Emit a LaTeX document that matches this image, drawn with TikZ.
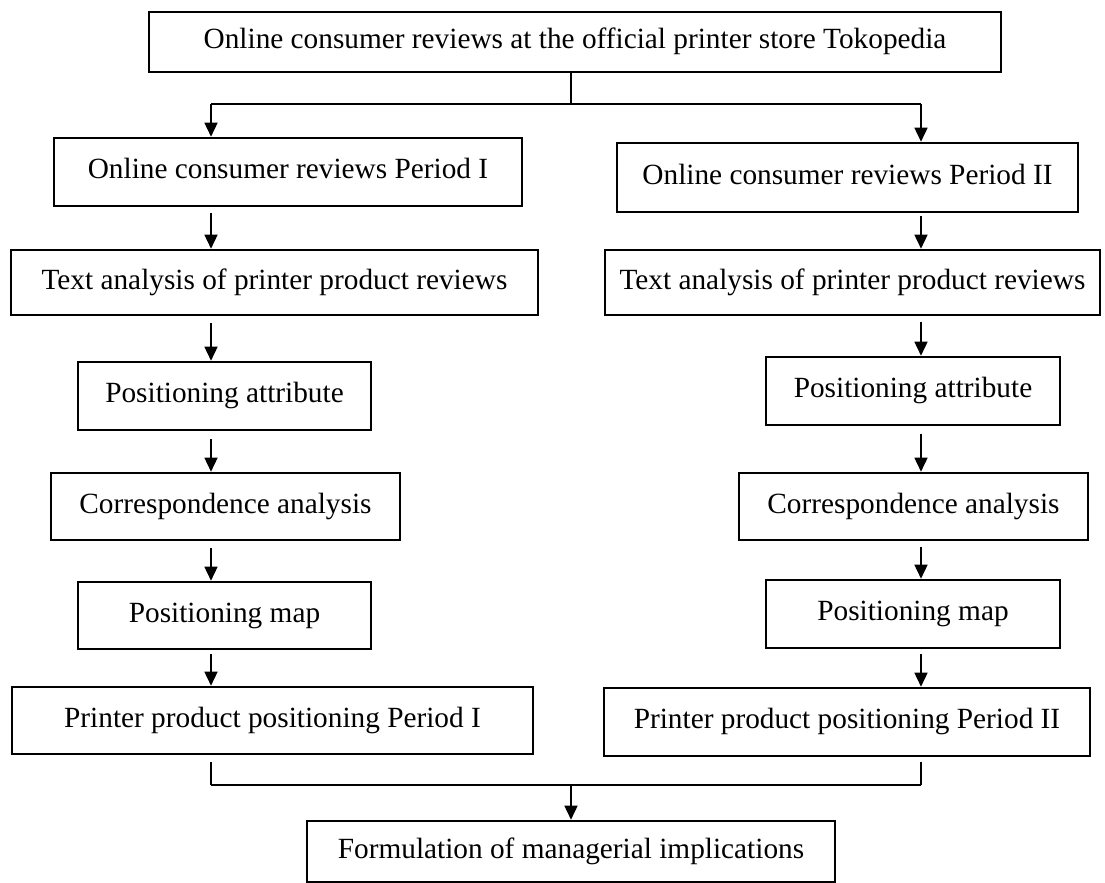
\documentclass[tikz,border=0pt]{standalone}
\usepackage{fontspec}
\setmainfont{Liberation Serif}
\usetikzlibrary{arrows.meta}
\begin{document}
\begin{tikzpicture}[x=0.5pt,y=-0.5pt,
  box/.style={draw, line width=1.3pt, inner sep=0pt, text height=0.66em, text depth=0pt,
    font=\fontsize{14.65pt}{17pt}\selectfont, anchor=center},
  arr/.style={line width=0.8pt, -{Triangle[length=7pt,width=6.5pt]}},
  conn/.style={line width=0.6pt}]
\useasboundingbox (0,0) rectangle (1105,883);
% boxes
\node[box, minimum width=426pt, minimum height=30pt] (top) at (575,42) {Online consumer reviews at the official printer store Tokopedia};
\node[box, minimum width=234pt, minimum height=34pt] (p1) at (288,172) {Online consumer reviews Period I};
\node[box, minimum width=230.5pt, minimum height=34.5pt] (p2) at (847.5,177.5) {Online consumer reviews Period II};
\node[box, minimum width=263.5pt, minimum height=32.5pt] (ta1) at (274.5,282.5) {Text analysis of printer product reviews};
\node[box, minimum width=247.5pt, minimum height=32.5pt] (ta2) at (852.5,282.5) {Text analysis of printer product reviews};
\node[box, minimum width=146.5pt, minimum height=34pt] (pa1) at (224.5,396) {Positioning attribute};
\node[box, minimum width=147pt, minimum height=34pt] (pa2) at (913,391) {Positioning attribute};
\node[box, minimum width=174.5pt, minimum height=33.5pt] (ca1) at (225.5,506.5) {Correspondence analysis};
\node[box, minimum width=174.5pt, minimum height=33.5pt] (ca2) at (913.5,506.5) {Correspondence analysis};
\node[box, minimum width=146.5pt, minimum height=33.5pt] (pm1) at (224.5,615.5) {Positioning map};
\node[box, minimum width=147pt, minimum height=34pt] (pm2) at (913,614) {Positioning map};
\node[box, minimum width=260.5pt, minimum height=33.5pt] (pp1) at (272.5,720.5) {Printer product positioning Period I};
\node[box, minimum width=243pt, minimum height=34pt] (pp2) at (847,722) {Printer product positioning Period II};
\node[box, minimum width=264pt, minimum height=30.5pt] (fm) at (571,851.5) {Formulation of managerial implications};
% reference coordinates
\coordinate (L) at (211,0);
\coordinate (R) at (921,0);
\coordinate (M) at (571,0);
\coordinate (hT) at (0,104);
\coordinate (hB) at (0,785);
% top split
\draw[conn] (top.south -| M) -- (M |- hT);
\draw[conn] (L |- hT) -- (R |- hT);
\draw[arr] (L |- hT) -- (p1.north -| L);
\draw[arr] (R |- hT) -- (p2.north -| R);
% left chain
\draw[arr, shorten <=3pt] (p1.south -| L) -- (ta1.north -| L);
\draw[arr, shorten <=3.5pt] (ta1.south -| L) -- (pa1.north -| L);
\draw[arr, shorten <=4pt] (pa1.south -| L) -- (ca1.north -| L);
\draw[arr, shorten <=3.5pt] (ca1.south -| L) -- (pm1.north -| L);
\draw[arr, shorten <=2pt] (pm1.south -| L) -- (pp1.north -| L);
% right chain
\draw[arr, shorten <=1.5pt] (p2.south -| R) -- (ta2.north -| R);
\draw[arr, shorten <=3pt] (ta2.south -| R) -- (pa2.north -| R);
\draw[arr, shorten <=4pt] (pa2.south -| R) -- (ca2.north -| R);
\draw[arr, shorten <=3pt] (ca2.south -| R) -- (pm2.north -| R);
\draw[arr, shorten <=2.5pt] (pm2.south -| R) -- (pp2.north -| R);
% bottom merge
\draw[conn, shorten <=3.5pt] (pp1.south -| L) -- (L |- hB);
\draw[conn, shorten <=2.5pt] (pp2.south -| R) -- (R |- hB);
\draw[conn] (L |- hB) -- (R |- hB);
\draw[arr] (M |- hB) -- (fm.north);
\end{tikzpicture}
\end{document}
